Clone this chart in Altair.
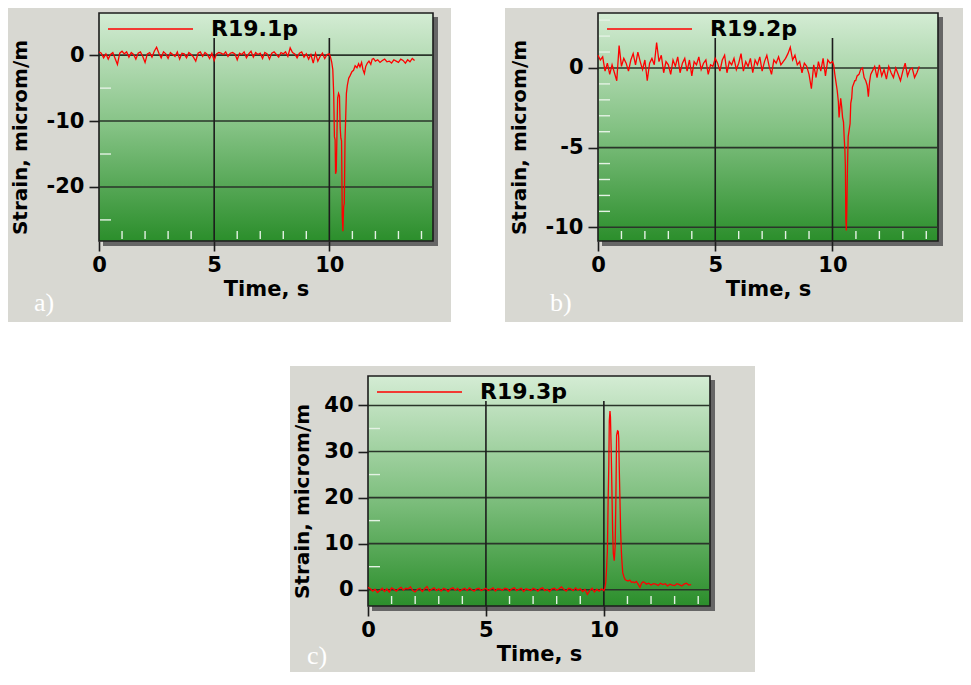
import altair as alt
import pandas as pd

# ---------------- data ----------------
T_BASE = [0.0, 0.1, 0.2, 0.3, 0.4, 0.5, 0.6, 0.7, 0.8, 0.9,
          1.0, 1.1, 1.2, 1.3, 1.4, 1.5, 1.6, 1.7, 1.8, 1.9,
          2.0, 2.1, 2.2, 2.3, 2.4, 2.5, 2.6, 2.7, 2.8, 2.9,
          3.0, 3.1, 3.2, 3.3, 3.4, 3.5, 3.6, 3.7, 3.8, 3.9,
          4.0, 4.1, 4.2, 4.3, 4.4, 4.5, 4.6, 4.7, 4.8, 4.9,
          5.0, 5.1, 5.2, 5.3, 5.4, 5.5, 5.6, 5.7, 5.8, 5.9,
          6.0, 6.1, 6.2, 6.3, 6.4, 6.5, 6.6, 6.7, 6.8, 6.9,
          7.0, 7.1, 7.2, 7.3, 7.4, 7.5, 7.6, 7.7, 7.8, 7.9,
          8.0, 8.1, 8.2, 8.3, 8.4, 8.5, 8.6, 8.7, 8.8, 8.9,
          9.0, 9.1, 9.2, 9.3, 9.4, 9.5, 9.6, 9.7, 9.8, 9.9,
          10.0]

A_BASE = [0.5, 0.3, -0.4, 0.2, -0.6, 0.1, 0.4, -0.5, -1.4, 0.3,
          0.6, 0.2, 0.5, -0.3, 0.4, 0.1, -0.6, 0.3, 0.5, -0.2,
          -1.1, 0.2, 0.4, -0.3, 0.6, 1.2, 0.3, -0.4, 0.5, 0.2,
          -0.5, 0.4, 0.1, -0.2, 0.5, -0.6, 0.3, 0.2, -0.4, 0.4,
          0.1, -0.3, -0.9, 0.3, 0.5, -0.2, 0.4, 0.1, -0.5, 0.3,
          -0.8, 0.2, 0.4, 0.3, 0.1, 0.5, -0.2, 0.3, 0.4, 0.2,
          -0.7, 0.3, 0.1, 0.5, -0.4, 0.2, 0.6, -0.3, 0.4, 0.1,
          0.3, -0.5, 0.4, 0.2, -0.6, 0.3, 0.5, 0.1, -0.3, 0.4,
          0.2, 0.5, -0.2, 1.1, 0.4, 0.2, -0.4, 0.3, 0.5, -0.3,
          0.2, -0.6, 0.1, -1.2, 0.3, -0.9, -0.2, 0.3, -0.5, 0.1,
          0.2]
A_T_EV = [10.05, 10.1, 10.15, 10.19, 10.22, 10.25, 10.27, 10.3, 10.33, 10.36,
          10.4, 10.44, 10.47, 10.5, 10.53, 10.56, 10.59, 10.62, 10.65, 10.68,
          10.71, 10.74, 10.78, 10.84, 10.9, 10.98, 11.05, 11.12, 11.2, 11.27,
          11.33, 11.4, 11.46, 11.52, 11.58, 11.65, 11.72, 11.8, 11.86, 11.92,
          12.0, 12.1, 12.2, 12.3, 12.4, 12.5, 12.6, 12.7, 12.8, 12.9,
          13.0, 13.1, 13.2, 13.3, 13.4, 13.5, 13.6, 13.7]
A_V_EV = [-0.3, -1.0, -2.2, -6.0, -12.4, -12.8, -18.0, -17.6, -12.2, -6.5,
          -5.8, -6.2, -11.0, -12.6, -13.0, -24.5, -26.7, -23.0, -22.5, -12.9,
          -9.5, -5.8, -4.6, -3.5, -3.1, -2.5, -2.3, -1.6, -1.9, -1.3,
          -1.8, -1.1, -2.2, -2.8, -1.7, -1.2, -0.9, -1.4, -0.6, -0.5,
          -0.9, -0.7, -1.1, -0.8, -0.6, -1.0, -0.9, -1.2, -0.7, -0.9,
          -1.1, -0.6, -0.8, -1.2, -0.7, -1.0, -0.5, -0.8]

B_BASE = [0.8, 0.5, 0.7, -0.2, 0.3, -0.4, 0.2, -0.3, -0.8, 1.4,
          0.1, 0.6, 0.3, -0.2, 0.5, 0.9, 0.2, 1.0, 0.4, -0.1,
          0.5, -0.8, 0.3, 0.6, 0.2, 1.6, 0.4, 0.8, -0.3, 0.4,
          0.2, -0.4, 0.5, 0.1, 0.7, -0.3, 0.3, 0.6, -0.2, 0.5,
          -0.5, 0.4, 0.2, 0.7, -0.1, 0.3, 0.5, -0.4, 0.2, 0.1,
          0.6, 0.3, -0.2, 0.5, 0.8, -0.3, 0.4, 0.2, 0.6, -0.1,
          0.3, 0.9, -0.2, 0.4, 0.1, 0.6, -0.3, 0.5, 0.2, 0.7,
          -0.2, 0.4, 0.8, 0.1, -0.4, 0.5, 0.3, 0.7, 0.2, 0.4,
          0.6, 0.9, 1.3, 0.5, 0.8, 0.2, 0.4, -0.3, 0.3, 0.1,
          -0.4, -1.3, 0.2, -0.6, 0.4, -0.2, 0.6, -0.5, 0.5, 0.3,
          0.4]
B_T_EV = [10.05, 10.1, 10.15, 10.2, 10.25, 10.28, 10.31, 10.35, 10.39, 10.43,
          10.47, 10.5, 10.53, 10.55, 10.57, 10.59, 10.61, 10.64, 10.67, 10.71,
          10.75, 10.78, 10.82, 10.85, 10.9, 10.95, 10.99, 11.05, 11.13, 11.2,
          11.28, 11.35, 11.42, 11.48, 11.53, 11.58, 11.63, 11.7, 11.8, 11.9,
          12.0, 12.1, 12.2, 12.3, 12.4, 12.5, 12.6, 12.7, 12.8, 12.9,
          13.0, 13.1, 13.2, 13.3, 13.4, 13.5, 13.6, 13.7]
B_V_EV = [0.2, -0.4, -0.9, -1.4, -2.1, -3.1, -2.6, -1.9, -2.4, -3.1,
          -3.4, -4.4, -5.2, -6.2, -9.5, -10.2, -9.0, -6.2, -4.3, -3.9,
          -3.5, -2.2, -1.9, -1.2, -1.0, -0.8, -0.8, -0.5, -0.4, -0.1,
          0.0, -0.6, -0.8, -1.1, -1.8, -0.9, -0.4, -0.2, 0.1, -0.6,
          0.2, -0.5, -0.1, -0.7, 0.1, -0.3, -0.6, 0.0, -0.4, -0.8,
          -0.2, 0.3, -0.5, -0.1, 0.0, -0.6, -0.3, 0.1]

C_BASE = [0.5, 0.2, -0.3, 0.1, -0.6, -0.2, 0.3, -0.4, 0.2, -0.5,
          0.4, 0.1, -0.3, 0.2, 0.5, -0.1, 0.3, 0.2, 0.6, -0.2,
          -0.5, 0.1, 0.3, -0.4, 0.2, 0.7, -0.3, 0.1, 0.4, -0.2,
          0.2, -0.3, 0.3, 0.1, -0.4, 0.2, 0.4, -0.1, 0.3, -0.3,
          0.1, 0.3, -0.2, 0.4, 0.0, -0.3, 0.2, 0.3, -0.2, 0.1,
          0.3, -0.2, 0.1, 0.4, -0.3, 0.2, 0.1, -0.1, 0.3, 0.2,
          -0.3, 0.2, 0.4, -0.2, 0.1, 0.3, -0.4, 0.2, 0.0, -0.2,
          0.3, 0.1, -0.3, 0.2, 0.4, -0.2, 0.1, -0.4, 0.2, 0.3,
          -0.1, 0.2, 0.6, 0.1, -0.3, 0.3, 0.2, -0.2, 0.4, -0.1,
          0.2, -0.4, 0.1, -1.0, -0.2, 0.3, -0.5, 0.1, -0.3, 0.2,
          -0.2]
C_T_EV = [10.04, 10.08, 10.11, 10.15, 10.18, 10.21, 10.23, 10.26, 10.28, 10.31,
          10.34, 10.37, 10.4, 10.44, 10.48, 10.51, 10.54, 10.58, 10.61, 10.63,
          10.65, 10.68, 10.71, 10.74, 10.76, 10.8, 10.85, 10.9, 10.96, 11.03,
          11.1, 11.17, 11.24, 11.3, 11.38, 11.45, 11.53, 11.6, 11.67, 11.74,
          11.8, 11.9, 12.0, 12.1, 12.2, 12.3, 12.4, 12.5, 12.6, 12.7,
          12.8, 12.9, 13.0, 13.1, 13.2, 13.3, 13.4, 13.5, 13.6, 13.7]
C_V_EV = [0.3, 1.5, 4.0, 8.5, 19.0, 27.0, 36.6, 38.8, 37.5, 30.5,
          22.0, 13.0, 8.0, 6.3, 9.5, 20.0, 33.5, 34.5, 34.4, 33.0,
          27.0, 20.0, 12.8, 8.5, 6.6, 3.7, 2.8, 2.2, 2.0, 1.9,
          2.1, 1.6, 1.7, 1.5, 1.8, 1.2, 0.5, 1.4, 1.7, 1.5,
          1.2, 1.4, 1.0, 1.3, 1.2, 0.9, 1.4, 1.1, 1.3, 0.8,
          1.2, 1.0, 0.9, 1.3, 1.1, 0.8, 1.2, 1.4, 1.0, 1.1]

SERIES = ["R19.1p", "R19.2p", "R19.3p"]
LETTERS = ["a)", "b)", "c)"]
X_MAJOR = [0, 5, 10]
X_MINOR = [1, 2, 3, 4, 6, 7, 8, 9, 11, 12, 13, 14]
A_Y_MAJOR = [0, -10, -20]
A_Y_MINOR = [-5, -15, -25]
B_Y_MAJOR = [0, -5, -10]
B_Y_MINOR = [3, 2, 1, -1, -2, -3, -4, -6, -7, -8, -9]
C_Y_MAJOR = [0, 10, 20, 30, 40]
C_Y_MINOR = [5, 15, 25, 35]

FONT = "DejaVu Sans"
GRADIENT = {"gradient": "linear", "x1": 0, "x2": 0, "y1": 0, "y2": 1,
            "stops": [{"offset": 0, "color": "#d4ecd4"},
                      {"offset": 0.5, "color": "#84c284"},
                      {"offset": 1, "color": "#2b8e2b"}]}


def panel(series, letter, t, v, ydom, ymajor, yminor, W, H, ext, letter_xy,
          title_x):
    L, R, T, B = ext
    one = pd.DataFrame({"k": [0]})
    xs = alt.Scale(domain=[0, 14.5], nice=False, zero=False)
    ys = alt.Scale(domain=ydom, nice=False, zero=False)
    layers = []
    layers.append(alt.Chart(one).mark_rect(fill="#d8d8d2").encode(
        x=alt.value(-L), x2=alt.value(W + R), y=alt.value(-T), y2=alt.value(H + B)))
    layers.append(alt.Chart(one).mark_rect(fill="#666666").encode(
        x=alt.value(4), x2=alt.value(W + 5), y=alt.value(4), y2=alt.value(H + 5)))
    layers.append(alt.Chart(one).mark_rect(fill=GRADIENT, stroke="#1c1c1c",
                                           strokeWidth=1.6).encode(
        x=alt.value(0), x2=alt.value(W), y=alt.value(0), y2=alt.value(H)))
    layers.append(alt.Chart(pd.DataFrame({"y": ymajor})).mark_rule(
        color="#2a352a", strokeWidth=1.6).encode(
        y=alt.Y("y:Q", scale=ys), x=alt.value(0), x2=alt.value(W)))
    layers.append(alt.Chart(pd.DataFrame({"x": X_MAJOR[1:]})).mark_rule(
        color="#1c1c1c", strokeWidth=1.6).encode(
        x=alt.X("x:Q", scale=xs), y=alt.value(25), y2=alt.value(H)))
    layers.append(alt.Chart(pd.DataFrame({"y": yminor})).mark_rule(
        color="#e4f2e4", strokeWidth=1.4).encode(
        y=alt.Y("y:Q", scale=ys), x=alt.value(1), x2=alt.value(12)))
    layers.append(alt.Chart(pd.DataFrame({"x": X_MINOR})).mark_rule(
        color="#e4f2e4", strokeWidth=1.4).encode(
        x=alt.X("x:Q", scale=xs), y=alt.value(H - 10), y2=alt.value(H - 2)))

    xaxis = alt.Axis(values=X_MAJOR, title="Time, s", tickSize=10, tickColor="#1c1c1c",
                     tickWidth=1.6, domain=False, grid=False, labelFont=FONT,
                     labelFontWeight="bold", labelFontSize=21, labelColor="black",
                     labelPadding=3, labelFlush=False, labelOverlap=False,
                     labelExpr="'' + datum.value", titleFont=FONT,
                     titleFontSize=21, titleFontWeight="bold", titleColor="black",
                     titleX=W / 2, titleY=48, titleBaseline="middle", zindex=1)
    yaxis = alt.Axis(values=ymajor, title="Strain, microm/m", tickSize=10,
                     tickColor="#1c1c1c", tickWidth=1.6, domain=False, grid=False,
                     labelFont=FONT, labelFontWeight="bold", labelFontSize=21,
                     labelColor="black", labelPadding=5, labelFlush=False,
                     labelOverlap=False, labelExpr="'' + datum.value", titleFont=FONT,
                     titleFontSize=20, titleFontWeight="bold", titleColor="black",
                     titleX=-title_x, titleY=H / 2 + 10, titleBaseline="middle",
                     zindex=1)
    df = pd.DataFrame({"t": t, "v": v})
    layers.append(alt.Chart(df).mark_line(color="#ff0000", strokeWidth=1.3).encode(
        x=alt.X("t:Q", scale=xs, axis=xaxis),
        y=alt.Y("v:Q", scale=ys, axis=yaxis)))
    layers.append(alt.Chart(one).mark_rule(color="#ff0000", strokeWidth=1.3).encode(
        x=alt.value(9), x2=alt.value(94), y=alt.value(16)))
    layers.append(alt.Chart(one).mark_text(
        text=series, font=FONT, fontWeight="bold", fontSize=22, color="black",
        align="left", baseline="middle").encode(x=alt.value(112), y=alt.value(16)))
    layers.append(alt.Chart(one).mark_text(
        text=letter, font="Liberation Serif", fontSize=26, color="white",
        align="left", baseline="middle").encode(
        x=alt.value(letter_xy[0]), y=alt.value(letter_xy[1])))
    return alt.layer(*layers).properties(width=W, height=H)


pa = panel(SERIES[0], LETTERS[0], T_BASE + A_T_EV, A_BASE + A_V_EV, [-28.2, 6.4],
           A_Y_MAJOR, A_Y_MINOR, 334, 228, (91, 18, 5, 81), (-65, 228 + 62), 79)
pb = panel(SERIES[1], LETTERS[1], T_BASE + B_T_EV, B_BASE + B_V_EV, [-10.86, 3.45],
           B_Y_MAJOR, B_Y_MINOR, 340, 228, (93, 25, 5, 81), (-48, 228 + 62), 79)
pc = panel(SERIES[2], LETTERS[2], T_BASE + C_T_EV, C_BASE + C_V_EV, [-3.54, 46.4],
           C_Y_MAJOR, C_Y_MINOR, 342, 230, (78, 45, 10, 66), (-61, 230 + 50), 66)

SPACER_W = 191
spacer = alt.Chart(pd.DataFrame({"k": [0]})).mark_rect(fill="white").encode(
    x=alt.value(0), x2=alt.value(SPACER_W), y=alt.value(0), y2=alt.value(10)
).properties(width=SPACER_W, height=10)

chart = alt.vconcat(
    alt.hconcat(pa, pb, spacing=54),
    alt.hconcat(spacer, pc, spacing=0),
    spacing=44,
).configure_view(strokeWidth=0).properties(background="white", padding=0)

chart.save("out.html", embed_options={"renderer": "svg", "actions": False})
